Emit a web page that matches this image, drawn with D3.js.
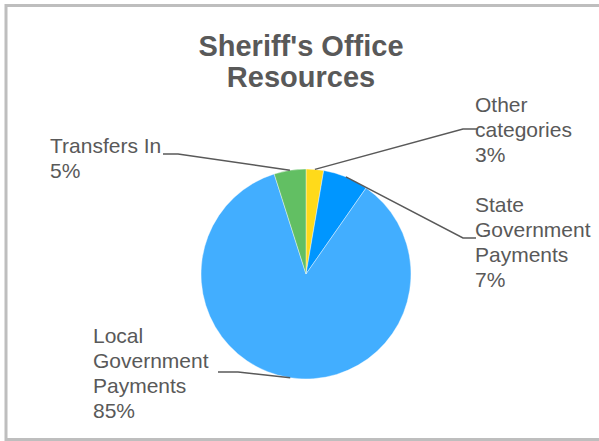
<!DOCTYPE html>
<html>
<head>
<meta charset="utf-8">
<script src="https://cdn.jsdelivr.net/npm/d3@7/dist/d3.min.js"></script>
<style>
  html, body { margin: 0; padding: 0; background: #fff; }
  svg { display: block; }
  text { font-family: "Liberation Sans", Arial, sans-serif; fill: #595959; }
</style>
</head>
<body>
<svg id="chart" width="599" height="441"></svg>
<script>
// ---- data ----
const categories = ["Other categories", "State Government Payments", "Local Government Payments", "Transfers In"];
const values = [2.7, 7.0, 85.4, 4.9];
const percentLabels = ["3%", "7%", "85%", "5%"];
const labelLines = [["Other", "categories", "3%"], ["State", "Government", "Payments", "7%"], ["Local", "Government", "Payments", "85%"], ["Transfers In", "5%"]];
const colors = ["#FFDA1A", "#0096FF", "#42AEFF", "#62BF63"];
const titleLines = ["Sheriff's Office", "Resources"];

// ---- layout (positions only) ----
const W = 599, H = 441;
const cx = 306, cy = 274, R = 105;
const lineH = 25;
// text anchor (x, first baseline), elbow point and end of horizontal leader
const labelLayout = [
  { x: 475, y: 112, elbow: [463, 129], end: [478, 129] },
  { x: 475, y: 212, elbow: [463, 238], end: [476, 238] },
  { x: 93,  y: 343, elbow: [238, 372], end: [218, 372] },
  { x: 50,  y: 153, elbow: [178, 154], end: [163, 154] }
];

const svg = d3.select("#chart");

// outer border
svg.append("rect")
  .attr("x", 6).attr("y", 5.5)
  .attr("width", 605).attr("height", 434)
  .attr("fill", "none")
  .attr("stroke", "#BEBEBE")
  .attr("stroke-width", 3);

// title
const title = svg.append("text")
  .attr("x", 301).attr("y", 56)
  .attr("text-anchor", "middle")
  .style("font-size", "29px")
  .style("font-weight", "bold");
titleLines.forEach((t, i) => {
  title.append("tspan").attr("x", 301).attr("dy", i === 0 ? 0 : 31).text(t);
});

// pie
const pie = d3.pie().sort(null).value(d => d.value);
const data = categories.map((c, i) => ({ name: c, value: values[i], color: colors[i], idx: i }));
const arcs = pie(data);
const arc = d3.arc().innerRadius(0).outerRadius(R);

const g = svg.append("g").attr("transform", `translate(${cx},${cy})`);
g.selectAll("path")
  .data(arcs)
  .join("path")
  .attr("d", arc)
  .attr("fill", d => d.data.color)
  .attr("stroke", "#ffffff")
  .attr("stroke-width", 0.4);

// leader lines
arcs.forEach(a => {
  const i = a.data.idx;
  const L = labelLayout[i];
  const mid = (a.startAngle + a.endAngle) / 2;
  const px = cx + Math.sin(mid) * R;
  const py = cy - Math.cos(mid) * R;
  svg.append("polyline")
    .attr("points", [[px, py], L.elbow, L.end].map(p => p.join(",")).join(" "))
    .attr("fill", "none")
    .attr("stroke", "#595959")
    .attr("stroke-width", 1.5);
});

// labels
arcs.forEach(a => {
  const i = a.data.idx;
  const L = labelLayout[i];
  const t = svg.append("text")
    .attr("x", L.x).attr("y", L.y)
    .style("font-size", "21px");
  labelLines[i].forEach((line, k) => {
    t.append("tspan").attr("x", L.x).attr("dy", k === 0 ? 0 : lineH).text(line);
  });
});
</script>
</body>
</html>
